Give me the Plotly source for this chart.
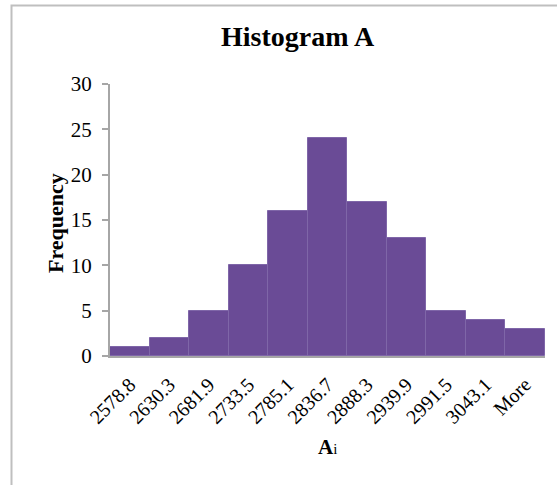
import plotly.graph_objects as go

bins = ["2578.8", "2630.3", "2681.9", "2733.5", "2785.1", "2836.7",
        "2888.3", "2939.9", "2991.5", "3043.1", "More"]
frequency = [1, 2, 5, 10, 16, 24, 17, 13, 5, 4, 3]

serif = "Liberation Serif"

fig = go.Figure(
    go.Bar(
        x=bins,
        y=frequency,
        marker=dict(color="#6a4b96", line=dict(color="#7f66a8", width=1)),
        width=1.0,
    )
)

fig.update_layout(
    width=557,
    height=485,
    margin=dict(l=110, r=12, t=84, b=129),
    paper_bgcolor="white",
    plot_bgcolor="white",
    bargap=0,
    showlegend=False,
    font=dict(family=serif, color="black"),
)

fig.add_annotation(
    text="<b>Histogram A</b>",
    x=(298 - 110) / 435, xref="paper", xanchor="center",
    y=1 + (84 - 37) / 272, yref="paper", yanchor="middle",
    showarrow=False, font=dict(family=serif, size=28, color="black"),
)

fig.update_xaxes(
    type="category",
    tickangle=-45,
    tickfont=dict(family=serif, size=20, color="black"),
    showline=True, linecolor="#a6a6a6", linewidth=2,
    ticks="", showgrid=False, ticklabelstandoff=7,
)

fig.update_yaxes(
    range=[0, 30], dtick=5,
    tickfont=dict(family=serif, size=21, color="black"),
    showline=True, linecolor="#a6a6a6", linewidth=2,
    ticks="outside", ticklen=6, tickcolor="#a6a6a6", tickwidth=2,
    ticklabelstandoff=6,
    showgrid=False, zeroline=False,
)

fig.add_annotation(
    text="<b>Frequency</b>",
    x=(55 - 110) / 435, xref="paper", xanchor="center",
    y=(356 - 223) / 272, yref="paper", yanchor="middle",
    textangle=-90, showarrow=False,
    font=dict(family=serif, size=22, color="black"),
)

fig.add_annotation(
    text="<b>A</b><span style='font-size:15px'>i</span>",
    x=(327 - 110) / 435, xref="paper", xanchor="center",
    y=-(447 - 356) / 272, yref="paper", yanchor="middle",
    showarrow=False, font=dict(family=serif, size=21, color="black"),
)

# outer chart frame
fig.add_shape(
    type="rect", xref="paper", yref="paper",
    x0=(11.5 - 110) / 435, x1=1.2,
    y0=-1.0, y1=1 + (84 - 5.5) / 272,
    line=dict(color="#bfbfbf", width=2), fillcolor="rgba(0,0,0,0)",
    layer="below",
)

fig.write_html("out.html")
